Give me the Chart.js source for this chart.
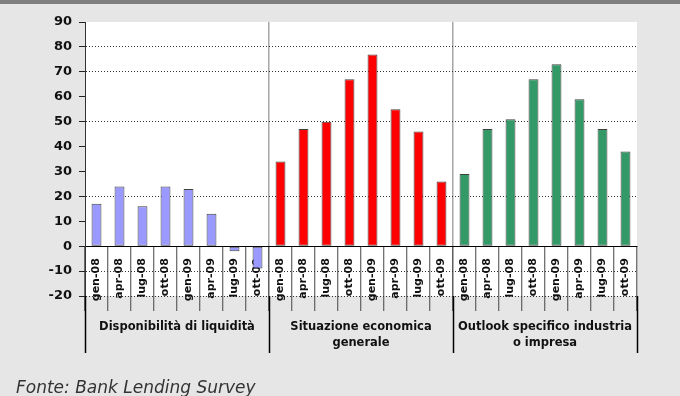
<!DOCTYPE html>
<html>
<head>
<meta charset="utf-8">
<script src="https://cdn.jsdelivr.net/npm/chart.js@4/dist/chart.umd.min.js"></script>
<style>
  html, body { margin: 0; padding: 0; background: #e6e6e6; }
  #wrap { position: relative; width: 680px; height: 396px; overflow: hidden; background: #e6e6e6; }
  #topbar { position: absolute; left: 0; top: 0; width: 680px; height: 4px; background: #808080; }
  canvas { position: absolute; left: 0; top: 0; }
  #source { position: absolute; left: 16px; top: 377px; font: italic 17px "DejaVu Sans", sans-serif; color: #333; white-space: nowrap; }
</style>
</head>
<body>
<div id="wrap">
  <div id="topbar"></div>
  <canvas id="chart" width="680" height="396"></canvas>
  <div id="source">Fonte: Bank Lending Survey</div>
</div>
<script>
// quarters repeated under each group
const quarters = ['gen-08', 'apr-08', 'lug-08', 'ott-08', 'gen-09', 'apr-09', 'lug-09', 'ott-09'];
const groups = [
  ['Disponibilità di liquidità'],
  ['Situazione economica', 'generale'],
  ['Outlook specifico industria', 'o impresa']
];
const liquidita = [17, 24, 16, 24, 23, 13, -2, -9];
const situazione = [34, 47, 50, 67, 77, 55, 46, 26];
const outlook = [29, 47, 51, 67, 73, 59, 47, 38];
const yTicks = { min: -20, max: 90, step: 10 };
const gridValues = [80, 70, 50, 20, -10, -20];

const colors = ['#9999ff', '#ff0000', '#339966'];
const n = quarters.length;
const labels = [].concat(quarters, quarters, quarters);
const blanks = new Array(n).fill(null);

const seriesList = [liquidita, situazione, outlook];
const datasets = seriesList.map((vals, g) => {
  let data = [];
  for (let k = 0; k < seriesList.length; k++) {
    data = data.concat(k === g ? vals : blanks);
  }
  return {
    data: data,
    backgroundColor: colors[g],
    borderColor: 'rgba(0,0,0,0.75)',
    borderWidth: 1,
    borderSkipped: false,
    grouped: false,
    barPercentage: 0.43,
    categoryPercentage: 1
  };
});

const plotBackground = {
  id: 'plotBackground',
  beforeDraw(chart) {
    const { ctx, chartArea } = chart;
    ctx.save();
    ctx.fillStyle = '#ffffff';
    ctx.fillRect(chartArea.left, chartArea.top, chartArea.right - chartArea.left, chartArea.bottom - chartArea.top);
    ctx.restore();
  }
};

// group names and their separators under the plot
const groupLabels = {
  id: 'groupLabels',
  afterDraw(chart) {
    const { ctx, chartArea } = chart;
    const x = chart.scales.x;
    const half = (x.getPixelForValue(1) - x.getPixelForValue(0)) / 2;
    ctx.save();
    ctx.strokeStyle = '#000';
    ctx.lineWidth = 1.5;
    for (let g = 0; g <= groups.length; g++) {
      const px = Math.round(x.getPixelForValue(g * n) - half) + 0.5;
      ctx.beginPath();
      ctx.moveTo(px, chartArea.bottom);
      ctx.lineTo(px, chartArea.bottom + 57);
      ctx.stroke();
    }
    ctx.fillStyle = '#111';
    ctx.font = 'bold 11.5px "DejaVu Sans"';
    ctx.textAlign = 'center';
    ctx.textBaseline = 'middle';
    groups.forEach((lines, g) => {
      const cx = (x.getPixelForValue(g * n) + x.getPixelForValue(g * n + n - 1)) / 2;
      lines.forEach((line, i) => {
        ctx.fillText(line, cx, chartArea.bottom + 31 + i * 16);
      });
    });
    ctx.restore();
  }
};

new Chart(document.getElementById('chart'), {
  type: 'bar',
  data: { labels: labels, datasets: datasets },
  options: {
    responsive: false,
    animation: false,
    layout: { padding: { left: 0, top: 22, right: 43, bottom: 100 } },
    plugins: { legend: { display: false }, tooltip: { enabled: false } },
    scales: {
      x: {
        type: 'category',
        position: { y: 0 },
        offset: true,
        grid: {
          offset: true,
          drawOnChartArea: true,
          color: (c) => (c.index % n === 0 && c.index > 0) ? '#a6a6a6' : 'rgba(0,0,0,0)',
          lineWidth: 1.5,
          drawTicks: true,
          tickLength: 64,
          tickColor: '#444',
          tickWidth: 1
        },
        border: { display: true, color: '#000', width: 1 },
        ticks: {
          autoSkip: false,
          minRotation: 90,
          maxRotation: 90,
          padding: -52,
          color: '#111',
          font: { family: 'DejaVu Sans', weight: 'bold', size: 11 }
        }
      },
      y: {
        min: yTicks.min,
        max: yTicks.max,
        afterFit(scale) { scale.width = 85; },
        grid: {
          color: (c) => gridValues.includes(c.tick.value) ? '#333' : 'rgba(0,0,0,0)',
          lineWidth: 1,
          drawTicks: true,
          tickLength: 6,
          tickColor: '#222'
        },
        border: { display: true, color: '#333', width: 1, dash: [1, 2] },
        ticks: {
          stepSize: yTicks.step,
          padding: 7,
          color: '#111',
          font: { family: 'DejaVu Sans', weight: 'bold', size: 13 }
        }
      }
    }
  },
  plugins: [plotBackground, groupLabels]
});
</script>
</body>
</html>
